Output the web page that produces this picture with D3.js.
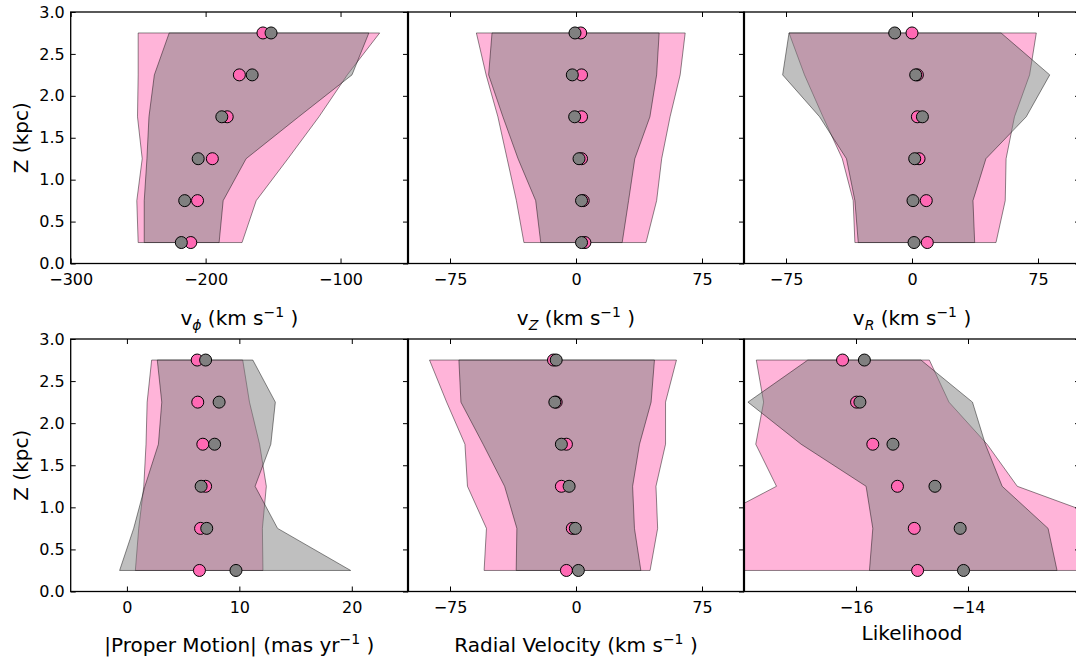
<!DOCTYPE html>
<html>
<head>
<meta charset="utf-8">
<script src="https://cdn.jsdelivr.net/npm/d3@7"></script>
<style>
body { margin: 0; background: #fff; }
svg text { font-family: "DejaVu Sans"; }
</style>
</head>
<body>
<div id="chart"></div>
<script>
// Z bins (kpc), shared by all panels
var zBins = [0.25, 0.75, 1.25, 1.75, 2.25, 2.75];
var zTicks = [0, 0.5, 1, 1.5, 2, 2.5, 3];

// v_phi
var vphiPinkMid = [-211, -206, -195, -184, -175, -157.5];
var vphiGrayMid = [-218, -215.5, -205.5, -188, -165.5, -151.5];
var vphiPinkLo = [-250, -251, -247, -250.5, -250, -250];
var vphiPinkHi = [-173, -162.5, -139, -116, -95, -71];
var vphiGrayLo = [-245.5, -245.5, -243.5, -242, -238, -227];
var vphiGrayHi = [-190, -187, -170, -131, -91.5, -79];
var vphiTicks = [-300, -200, -100];

// v_Z
var vzPinkMid = [5.3, 4.3, 3.3, 3.3, 3.3, 2.8];
var vzGrayMid = [3.3, 3.3, 1.8, -0.8, -2.2, -0.6];
var vzPinkLo = [-31, -35.5, -41, -46.5, -53.5, -59.3];
var vzPinkHi = [41.7, 48, 51, 56, 62, 65];
var vzGrayLo = [-21, -24, -34.5, -43.5, -52, -50];
var vzGrayHi = [27.5, 31.3, 35, 44, 48, 49.5];

// v_R
var vrPinkMid = [9.1, 8.5, 4.2, 3.2, 3.2, 0];
var vrGrayMid = [1.2, 0.6, 1.6, 6.2, 2.2, -10.3];
var vrPinkLo = [-34, -35, -41.5, -53, -64, -73.2];
var vrPinkHi = [50, 55.5, 56, 61, 70, 74];
var vrGrayLo = [-32, -34, -39, -55, -77, -73.2];
var vrGrayHi = [37.3, 36.3, 44, 68, 82, 53];
var velTicks = [-75, 0, 75];

// |proper motion|
var pmPinkMid = [6.45, 6.55, 7.0, 6.75, 6.3, 6.25];
var pmGrayMid = [9.7, 7.1, 6.6, 7.8, 8.2, 7.0];
var pmPinkLo = [0.75, 1.05, 1.5, 1.7, 1.8, 2.2];
var pmPinkHi = [12.1, 12.05, 12.4, 11.8, 10.9, 10.3];
var pmGrayLo = [-0.65, 0.6, 1.6, 2.8, 3.1, 2.7];
var pmGrayHi = [19.9, 13.4, 11.4, 12.8, 13.2, 11.2];
var pmTicks = [0, 10, 20];

// radial velocity
var rvPinkMid = [-5.7, -2.2, -8.7, -5.7, -11.8, -13.4];
var rvGrayMid = [1.4, -0.4, -4.1, -8.7, -12.6, -11.8];
var rvPinkLo = [-54.7, -53.3, -64.6, -66.1, -77, -87.2];
var rvPinkHi = [44.1, 48.6, 47.6, 53.3, 53.3, 59.8];
var rvGrayLo = [-35.6, -35.2, -42.5, -55.3, -68.5, -69.7];
var rvGrayHi = [38.6, 34.8, 33.7, 37.8, 44.7, 46.7];

// likelihood
var lkPinkMid = [-14.90, -14.96, -15.26, -15.70, -15.99, -16.24];
var lkGrayMid = [-14.08, -14.14, -14.59, -15.34, -15.93, -15.85];
var lkPinkLo = [-19.5, -18.85, -17.42, -17.79, -17.65, -17.78];
var lkPinkHi = [-11.0, -11.07, -13.12, -13.66, -14.34, -14.69];
var lkGrayLo = [-15.76, -15.70, -15.82, -16.98, -17.93, -16.86];
var lkGrayHi = [-12.41, -12.57, -13.39, -13.69, -13.92, -14.84];
var lkTicks = [-16, -14];

var kms = [[" (km s"], ["\u22121", "sup"], [" )"]];
var labels = {
  vphi: [["v"], ["\u03d5", "sub"]].concat(kms),
  vz: [["v"], ["Z", "sub"]].concat(kms),
  vr: [["v"], ["R", "sub"]].concat(kms),
  pm: [["|Proper Motion| (mas yr"], ["\u22121", "sup"], [" )"]],
  rv: [["Radial Velocity"]].concat(kms),
  lk: [["Likelihood"]]
};

var colX = [[70.7, 408], [408, 744], [744, 1080]];
var rowY = [[12, 263.5], [339, 591.5]];
var labelY = [325, 651.5];

var panels = [
  {col: 0, row: 0, domain: [-300, -50], ticks: vphiTicks, label: labels.vphi,
   pink: [vphiPinkLo, vphiPinkHi, vphiPinkMid], gray: [vphiGrayLo, vphiGrayHi, vphiGrayMid]},
  {col: 1, row: 0, domain: [-100, 100], ticks: velTicks, label: labels.vz,
   pink: [vzPinkLo, vzPinkHi, vzPinkMid], gray: [vzGrayLo, vzGrayHi, vzGrayMid]},
  {col: 2, row: 0, domain: [-100, 100], ticks: velTicks, label: labels.vr,
   pink: [vrPinkLo, vrPinkHi, vrPinkMid], gray: [vrGrayLo, vrGrayHi, vrGrayMid]},
  {col: 0, row: 1, domain: [-5, 25], ticks: pmTicks, label: labels.pm,
   pink: [pmPinkLo, pmPinkHi, pmPinkMid], gray: [pmGrayLo, pmGrayHi, pmGrayMid]},
  {col: 1, row: 1, domain: [-100, 100], ticks: velTicks, label: labels.rv,
   pink: [rvPinkLo, rvPinkHi, rvPinkMid], gray: [rvGrayLo, rvGrayHi, rvGrayMid]},
  {col: 2, row: 1, domain: [-18, -12], ticks: lkTicks, label: labels.lk, labelY: 640,
   pink: [lkPinkLo, lkPinkHi, lkPinkMid], gray: [lkGrayLo, lkGrayHi, lkGrayMid]}
];

var svg = d3.select("#chart").append("svg")
  .attr("width", 1076)
  .attr("height", 663);
var defs = svg.append("defs");

function styleAxis(sel) {
  sel.select(".domain").remove();
  sel.selectAll(".tick line").attr("stroke", "#000").attr("stroke-width", 1);
  sel.selectAll(".tick text").attr("fill", "#000").attr("font-size", 16)
    .attr("font-family", "DejaVu Sans");
}

function addLabel(parent, parts, x, y) {
  var t = parent.append("text")
    .attr("x", x).attr("y", y)
    .attr("text-anchor", "middle")
    .attr("font-size", 20)
    .attr("fill", "#000");
  var shift = 0;
  parts.forEach(function(p) {
    var target = p[1] == "sub" ? 5 : (p[1] == "sup" ? -8 : 0);
    var s = t.append("tspan").attr("dy", target - shift).text(p[0]);
    if (p[1]) s.attr("font-size", 14);
    if (p[1] == "sub") s.attr("font-style", "italic");
    shift = target;
  });
}

panels.forEach(function(p, k) {
  var x = d3.scaleLinear().domain(p.domain).range(colX[p.col]);
  var y = d3.scaleLinear().domain([0, 3]).range([rowY[p.row][1], rowY[p.row][0]]);
  var g = svg.append("g");

  defs.append("clipPath").attr("id", "clip" + k).append("rect")
    .attr("x", x.range()[0]).attr("y", y.range()[1])
    .attr("width", x.range()[1] - x.range()[0])
    .attr("height", y.range()[0] - y.range()[1]);
  var plot = g.append("g").attr("clip-path", "url(#clip" + k + ")");

  var band = d3.area()
    .y(function(d) { return y(d.z); })
    .x0(function(d) { return x(d.lo); })
    .x1(function(d) { return x(d.hi); });

  function rows(s) {
    return zBins.map(function(z, i) { return {z: z, lo: s[0][i], hi: s[1][i], mid: s[2][i]}; });
  }
  var sets = [[rows(p.pink), "#ff69b4"], [rows(p.gray), "#808080"]];

  sets.forEach(function(s) {
    plot.append("path")
      .attr("d", band(s[0]))
      .attr("fill", s[1])
      .attr("fill-opacity", 0.5)
      .attr("stroke", "#000")
      .attr("stroke-opacity", 0.45)
      .attr("stroke-width", 1);
  });
  sets.forEach(function(s) {
    plot.selectAll(null)
      .data(s[0])
      .enter()
        .append("circle")
          .attr("cx", function(d) { return x(d.mid); })
          .attr("cy", function(d) { return y(d.z); })
          .attr("r", 6)
          .attr("fill", s[1])
          .attr("stroke", "#000")
          .attr("stroke-width", 1);
  });

  g.append("g")
    .attr("transform", "translate(0," + y(0) + ")")
    .call(d3.axisBottom(x).tickValues(p.ticks).tickSize(-5).tickPadding(10).tickFormat(d3.format("d")))
    .call(styleAxis);
  g.append("g")
    .attr("transform", "translate(0," + y(3) + ")")
    .call(d3.axisTop(x).tickValues(p.ticks).tickSize(-5).tickFormat(""))
    .call(styleAxis);
  g.append("g")
    .attr("transform", "translate(" + x.range()[1] + ",0)")
    .call(d3.axisRight(y).tickValues(zTicks).tickSize(-5).tickFormat(""))
    .call(styleAxis);
  if (p.col == 0) {
    g.append("g")
      .attr("transform", "translate(" + x.range()[0] + ",0)")
      .call(d3.axisLeft(y).tickValues(zTicks).tickSize(-5).tickPadding(6).tickFormat(d3.format(".1f")))
      .call(styleAxis);
    var cy = (y.range()[0] + y.range()[1]) / 2;
    g.append("text")
      .attr("transform", "translate(28," + cy + ") rotate(-90)")
      .attr("text-anchor", "middle")
      .attr("font-size", 20)
      .attr("fill", "#000")
      .text("Z (kpc)");
  }

  g.append("rect")
    .attr("x", x.range()[0]).attr("y", y.range()[1])
    .attr("width", x.range()[1] - x.range()[0])
    .attr("height", y.range()[0] - y.range()[1])
    .attr("fill", "none")
    .attr("stroke", "#000")
    .attr("stroke-width", 1.3);
  if (p.col > 0) {
    // two spines meet here, so the line reads heavier
    g.append("line")
      .attr("x1", x.range()[0]).attr("x2", x.range()[0])
      .attr("y1", y.range()[1]).attr("y2", y.range()[0])
      .attr("stroke", "#000")
      .attr("stroke-width", 2.2);
  }

  addLabel(g, p.label, (x.range()[0] + x.range()[1]) / 2, p.labelY || labelY[p.row]);
});
</script>
</body>
</html>
